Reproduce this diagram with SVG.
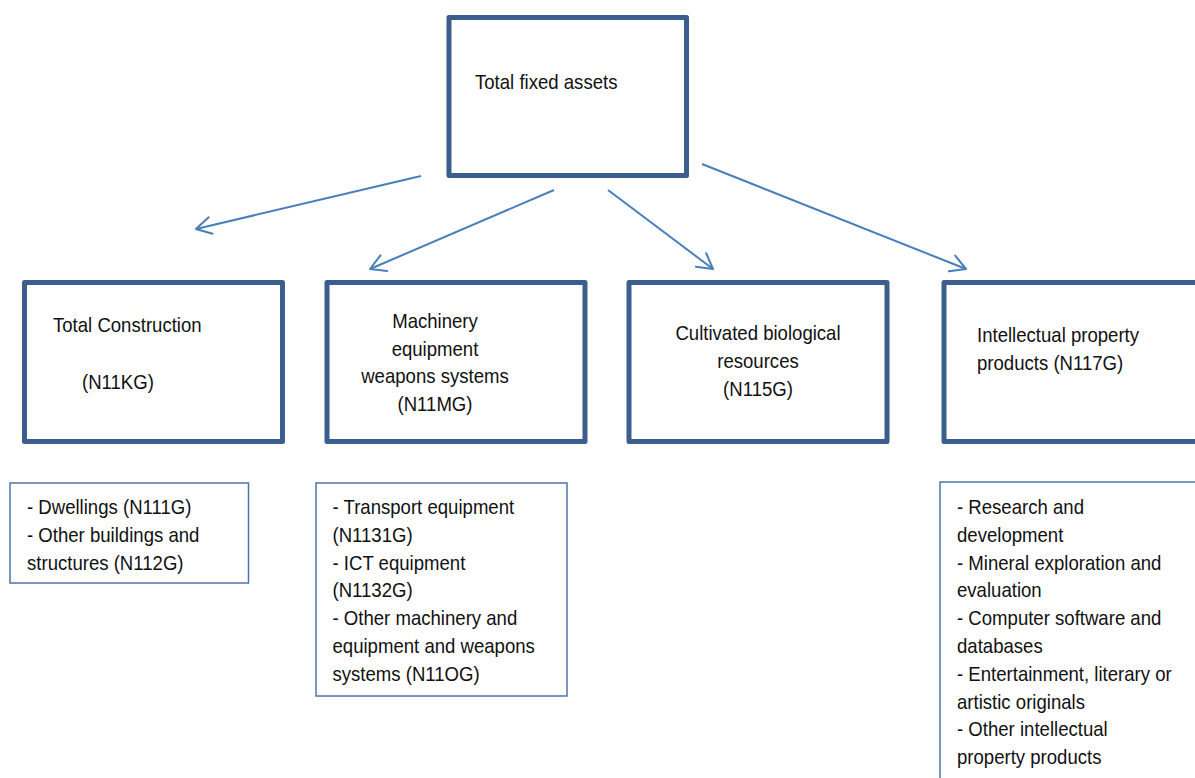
<svg xmlns="http://www.w3.org/2000/svg" width="1195" height="778" viewBox="0 0 1195 778">
<style>
.main{fill:#fff;stroke:#3B5E8C;stroke-width:5;stroke-linejoin:round}
.detail{fill:#fff;stroke:#4F74A8;stroke-width:1.5}
.t{font-family:"Liberation Sans",Arial,sans-serif;font-size:21px;fill:#111}
.c{text-anchor:middle}
.conn{stroke:#4A7EBB;stroke-width:2;fill:none;marker-end:url(#arr)}
</style>
<defs>
<marker id="arr" markerUnits="userSpaceOnUse" markerWidth="20" markerHeight="20" viewBox="0 0 20 20" refX="18" refY="10" orient="auto">
<path d="M3,1.5 L18,10 L3,18.5" fill="none" stroke="#4A7EBB" stroke-width="2" stroke-linecap="round" stroke-linejoin="round"/>
</marker>
</defs>
<rect width="1195" height="778" fill="#fff"/>
<g id="connectors">
<line class="conn" x1="421" y1="176" x2="196" y2="229"/>
<line class="conn" x1="554" y1="190" x2="370" y2="269"/>
<line class="conn" x1="608" y1="190" x2="713" y2="269"/>
<line class="conn" x1="702" y1="164" x2="966" y2="269"/>
</g>
<g id="total-fixed-assets">
<rect class="main" x="449" y="17.5" width="237.5" height="158"/>
<text class="t" transform="translate(475,88.5) scale(0.885,1)">Total fixed assets</text>
</g>
<g id="total-construction">
<rect class="main" x="24.5" y="282.5" width="258" height="159"/>
<text class="t" transform="translate(53,332) scale(0.885,1)">Total Construction</text>
<text class="t" transform="translate(82,389) scale(0.885,1)">(N11KG)</text>
</g>
<g id="machinery">
<rect class="main" x="327" y="282.5" width="258" height="159"/>
<text class="t c" transform="translate(435,328) scale(0.885,1)"><tspan x="0">Machinery</tspan><tspan x="0" dy="27.7">equipment</tspan><tspan x="0" dy="27.7">weapons systems</tspan><tspan x="0" dy="27.7">(N11MG)</tspan></text>
</g>
<g id="cultivated">
<rect class="main" x="629" y="282.5" width="258" height="159"/>
<text class="t c" transform="translate(758,340) scale(0.885,1)"><tspan x="0">Cultivated biological</tspan><tspan x="0" dy="27.8">resources</tspan><tspan x="0" dy="27.8">(N115G)</tspan></text>
</g>
<g id="intellectual">
<rect class="main" x="944" y="282.5" width="270" height="159"/>
<text class="t" transform="translate(977,342) scale(0.885,1)"><tspan x="0">Intellectual property</tspan><tspan x="0" dy="27.6">products (N117G)</tspan></text>
</g>
<g id="construction-details">
<rect class="detail" x="10" y="483" width="238.5" height="100"/>
<text class="t" transform="translate(27,514) scale(0.885,1)"><tspan x="0">- Dwellings (N111G)</tspan><tspan x="0" dy="27.8">- Other buildings and</tspan><tspan x="0" dy="27.8">structures (N112G)</tspan></text>
</g>
<g id="machinery-details">
<rect class="detail" x="316" y="483" width="251" height="213"/>
<text class="t" transform="translate(332.5,514) scale(0.885,1)"><tspan x="0">- Transport equipment</tspan><tspan x="0" dy="27.8">(N1131G)</tspan><tspan x="0" dy="27.8">- ICT equipment</tspan><tspan x="0" dy="27.8">(N1132G)</tspan><tspan x="0" dy="27.8">- Other machinery and</tspan><tspan x="0" dy="27.8">equipment and weapons</tspan><tspan x="0" dy="27.8">systems (N11OG)</tspan></text>
</g>
<g id="intellectual-details">
<rect class="detail" x="940" y="482" width="270" height="310"/>
<text class="t" transform="translate(957,514) scale(0.885,1)"><tspan x="0">- Research and</tspan><tspan x="0" dy="27.8">development</tspan><tspan x="0" dy="27.8">- Mineral exploration and</tspan><tspan x="0" dy="27.8">evaluation</tspan><tspan x="0" dy="27.8">- Computer software and</tspan><tspan x="0" dy="27.8">databases</tspan><tspan x="0" dy="27.8">- Entertainment, literary or</tspan><tspan x="0" dy="27.8">artistic originals</tspan><tspan x="0" dy="27.8">- Other intellectual</tspan><tspan x="0" dy="27.8">property products</tspan></text>
</g>
</svg>
